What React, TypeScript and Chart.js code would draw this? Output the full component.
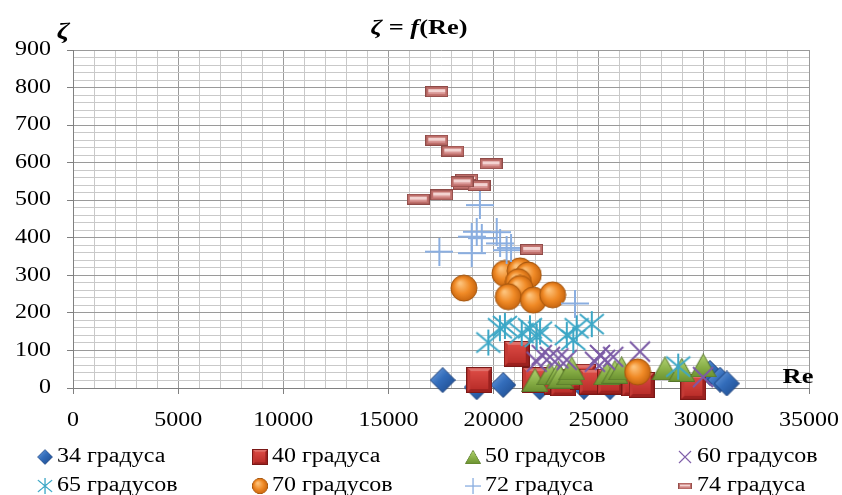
import React, { useEffect, useRef } from 'react';
import { Chart, registerables } from 'chart.js';

Chart.register(...registerables);

// ---------- data ----------
const seriesLabels = ['34 градуса', '40 градуса', '50 градусов', '60 градусов', '65 градусов', '70 градусов', '72 градуса', '74 градуса'];

const re34 = [17580, 19200, 20460, 22200, 24300, 25540, 30290, 30770, 31090];
const z34 = [21, 2, 8, 2, 3, 2, 40, 22, 12];

const re40 = [19320, 21100, 21970, 23000, 23320, 24270, 24670, 25540, 26700, 27040, 29500];
const z40 = [21, 91, 21, 17, 12, 30, 17, 17, 12, 8, 3];

const re50 = [21970, 22680, 23080, 23160, 23630, 23720, 25380, 25770, 26090, 28150, 28950, 29970];
const z50 = [21, 39, 39, 30, 39, 52, 39, 43, 52, 52, 48, 60];

const re60 = [22050, 22290, 22680, 23080, 23480, 24820, 25060, 25300, 25690, 26960, 29960];
const z60 = [70, 88, 83, 79, 75, 70, 88, 75, 83, 97, 29];

const re65 = [19750, 20300, 20540, 21340, 21730, 22210, 22050, 23480, 23790, 23950, 24670, 28780];
const z65 = [121, 159, 165, 146, 159, 150, 136, 141, 128, 159, 170, 57];

const re70 = [18590, 20540, 21260, 21650, 21180, 21260, 20700, 21890, 22810, 26850];
const z70 = [266, 305, 312, 301, 283, 265, 243, 234, 248, 43];

const re72 = [19350, 17420, 18960, 18960, 19200, 19440, 20150, 20310, 20620, 20830, 23870];
const z72 = [487, 363, 359, 403, 416, 399, 415, 385, 367, 373, 225];

const re74 = [17300, 17300, 18060, 19880, 18720, 18610, 19310, 18500, 17530, 16420, 21810];
const z74 = [789, 660, 631, 597, 556, 543, 539, 549, 514, 503, 369];

const xTickLabels = ['0', '5000', '10000', '15000', '20000', '25000', '30000', '35000'];
const yTickLabels = ['0', '100', '200', '300', '400', '500', '600', '700', '800', '900'];

const titleParts = [
  { t: 'ζ', italic: true },
  { t: ' = ', italic: false },
  { t: 'f', italic: true },
  { t: '(Re)', italic: false },
];
const yAxisTitle = 'ζ';
const xAxisTitle = 'Re';

// ---------- styling ----------
const SERIF = '"Liberation Serif", "Times New Roman", serif';
const SX = 1.2; // horizontal text stretch
const MAJOR = '#9a9a9a';
const MINOR = '#c9c9c9';
const AXIS = '#808080';

function mk(w: number, h: number, draw: (g: CanvasRenderingContext2D) => void) {
  const c = document.createElement('canvas');
  c.width = w;
  c.height = h;
  const g = c.getContext('2d')!;
  draw(g);
  return c;
}

function makeMarkers() {
  const diamond = mk(26, 26, (g) => {
    g.beginPath();
    g.moveTo(13, 0.5); g.lineTo(25.5, 13); g.lineTo(13, 25.5); g.lineTo(0.5, 13); g.closePath();
    const gr = g.createLinearGradient(0, 0, 26, 26);
    gr.addColorStop(0, '#7AA8E4'); gr.addColorStop(0.45, '#336DBB'); gr.addColorStop(1, '#1B4686');
    g.fillStyle = gr; g.fill();
    g.strokeStyle = '#1A3F78'; g.lineWidth = 1; g.stroke();
  });
  const square = mk(26, 26, (g) => {
    g.fillStyle = '#9C211F'; g.fillRect(0, 0, 26, 26);
    g.fillStyle = '#E0716B';
    g.beginPath(); g.moveTo(0, 0); g.lineTo(26, 0); g.lineTo(22, 4); g.lineTo(4, 4); g.closePath(); g.fill();
    g.fillStyle = '#C43A35';
    g.beginPath(); g.moveTo(0, 0); g.lineTo(4, 4); g.lineTo(4, 22); g.lineTo(0, 26); g.closePath(); g.fill();
    const gr = g.createLinearGradient(0, 4, 0, 22);
    gr.addColorStop(0, '#DA4943'); gr.addColorStop(1, '#BA2E2A');
    g.fillStyle = gr; g.fillRect(4, 4, 18, 18);
    g.strokeStyle = '#7A1816'; g.lineWidth = 1; g.strokeRect(0.5, 0.5, 25, 25);
  });
  const triangle = mk(27, 24, (g) => {
    g.beginPath();
    g.moveTo(13.5, 0.5); g.lineTo(26.5, 23.5); g.lineTo(0.5, 23.5); g.closePath();
    const gr = g.createLinearGradient(0, 0, 0, 24);
    gr.addColorStop(0, '#B3D474'); gr.addColorStop(0.6, '#86AD45'); gr.addColorStop(1, '#6A9030');
    g.fillStyle = gr; g.fill();
    g.strokeStyle = '#56762A'; g.lineWidth = 1; g.stroke();
  });
  const cross = mk(24, 24, (g) => {
    g.strokeStyle = '#7B5AA6'; g.lineWidth = 2;
    g.beginPath();
    g.moveTo(2, 2); g.lineTo(22, 22);
    g.moveTo(22, 2); g.lineTo(2, 22);
    g.stroke();
  });
  const star = mk(28, 28, (g) => {
    g.strokeStyle = '#3CA7C6'; g.lineWidth = 2;
    g.beginPath();
    g.moveTo(14, 1); g.lineTo(14, 27);
    g.moveTo(2, 4); g.lineTo(26, 24);
    g.moveTo(26, 4); g.lineTo(2, 24);
    g.stroke();
  });
  const circle = mk(28, 28, (g) => {
    g.beginPath(); g.arc(14, 14, 13, 0, Math.PI * 2);
    const gr = g.createRadialGradient(10, 9, 1, 14, 14, 13.5);
    gr.addColorStop(0, '#FDC27A'); gr.addColorStop(0.55, '#F08A26'); gr.addColorStop(1, '#C6640E');
    g.fillStyle = gr; g.fill();
    g.strokeStyle = '#A4550D'; g.lineWidth = 1; g.stroke();
  });
  const plus = mk(28, 28, (g) => {
    g.strokeStyle = '#8AAEE0'; g.lineWidth = 2;
    g.beginPath();
    g.moveTo(14, 0); g.lineTo(14, 28);
    g.moveTo(0, 14); g.lineTo(28, 14);
    g.stroke();
  });
  const dash = mk(23, 11, (g) => {
    g.fillStyle = '#BF6F6B'; g.fillRect(0, 0, 23, 11);
    g.fillStyle = '#F3D3D1'; g.fillRect(3, 3, 17, 3);
    g.fillStyle = '#D99694'; g.fillRect(3, 6, 17, 2);
    g.strokeStyle = '#8E4A47'; g.lineWidth = 1; g.strokeRect(0.5, 0.5, 22, 10);
  });
  return [diamond, square, triangle, cross, star, circle, plus, dash];
}

function drawText(ctx: CanvasRenderingContext2D, text: string, x: number, y: number, align: string, font: string, sx = SX) {
  ctx.save();
  ctx.font = font;
  const w = ctx.measureText(text).width * sx;
  const left = align === 'center' ? x - w / 2 : align === 'right' ? x - w : x;
  ctx.translate(left, y);
  ctx.scale(sx, 1);
  ctx.textAlign = 'left';
  ctx.textBaseline = 'middle';
  ctx.fillText(text, 0, 0);
  ctx.restore();
}

const legendCols = [45, 260, 473, 685];
const legendRows = [457, 486];

export default function App() {
  const ref = useRef<HTMLCanvasElement | null>(null);

  useEffect(() => {
    if (!ref.current) return;
    const markers = makeMarkers();
    const reAll = [re34, re40, re50, re60, re65, re70, re72, re74];
    const zAll = [z34, z40, z50, z60, z65, z70, z72, z74];

    const datasets = seriesLabels.map((label, i) => ({
      label,
      data: reAll[i].map((x, k) => ({ x, y: zAll[i][k] })),
      pointStyle: markers[i] as any,
      pointRadius: 10,
      pointHoverRadius: 10,
      showLine: false,
      clip: false as any,
      order: seriesLabels.length - 1 - i,
    }));

    const textPlugin = {
      id: 'texts',
      afterDraw(chart: any) {
        const ctx: CanvasRenderingContext2D = chart.ctx;
        const xs = chart.scales.x;
        const ys = chart.scales.y;
        ctx.save();
        ctx.fillStyle = '#000';
        xTickLabels.forEach((l) => drawText(ctx, l, xs.getPixelForValue(Number(l)), 421, 'center', `20px ${SERIF}`));
        yTickLabels.forEach((l) => drawText(ctx, l, 51, ys.getPixelForValue(Number(l)), 'right', `20px ${SERIF}`));

        // title
        const fs = 22;
        let total = 0;
        const widths = titleParts.map((p) => {
          ctx.font = `${p.italic ? 'italic ' : ''}bold ${fs}px ${SERIF}`;
          const w = ctx.measureText(p.t).width * SX;
          total += w;
          return w;
        });
        let cx = 419 - total / 2;
        titleParts.forEach((p, i) => {
          drawText(ctx, p.t, cx, 28, 'left', `${p.italic ? 'italic ' : ''}bold ${fs}px ${SERIF}`);
          cx += widths[i];
        });

        drawText(ctx, yAxisTitle, 63, 32, 'center', `italic bold 24px ${SERIF}`);
        drawText(ctx, xAxisTitle, 798, 377, 'center', `bold 22px ${SERIF}`);

        // legend
        seriesLabels.forEach((label, i) => {
          const mx = legendCols[i % 4];
          const my = legendRows[Math.floor(i / 4)];
          const img = markers[i];
          const s = 0.6;
          ctx.drawImage(img, mx - (img.width * s) / 2, my - (img.height * s) / 2, img.width * s, img.height * s);
          drawText(ctx, label, mx + 12, my, 'left', `20px ${SERIF}`);
        });
        ctx.restore();
      },
    };

    const chart = new Chart(ref.current, {
      type: 'scatter',
      data: { datasets },
      options: {
        animation: false,
        responsive: false,
        events: [],
        layout: { padding: { left: 0, right: 33, top: 50, bottom: 0 } },
        plugins: {
          legend: { display: false },
          title: { display: false },
          tooltip: { enabled: false },
        },
        scales: {
          x: {
            type: 'linear',
            min: 0,
            max: 35000,
            ticks: { stepSize: 1000, display: false, autoSkip: false },
            grid: {
              color: (c: any) => (c.tick && c.tick.value % 5000 === 0 ? MAJOR : MINOR),
              lineWidth: 1,
              drawTicks: true,
              tickLength: 6,
              tickColor: (c: any) => (c.tick && c.tick.value % 5000 === 0 ? AXIS : 'rgba(0,0,0,0)'),
            },
            border: { display: true, color: AXIS, width: 1 },
            afterFit: (s: any) => { s.height = 107; },
          },
          y: {
            type: 'linear',
            min: 0,
            max: 900,
            ticks: { stepSize: 20, display: false, autoSkip: false },
            grid: {
              color: (c: any) => (c.tick && c.tick.value % 100 === 0 ? MAJOR : MINOR),
              lineWidth: 1,
              drawTicks: true,
              tickLength: 6,
              tickColor: (c: any) => (c.tick && c.tick.value % 100 === 0 ? AXIS : 'rgba(0,0,0,0)'),
            },
            border: { display: true, color: AXIS, width: 1 },
            afterFit: (s: any) => { s.width = 73; },
          },
        },
      } as any,
      plugins: [textPlugin],
    });
    return () => chart.destroy();
  }, []);

  return (
    <div style={{ position: 'absolute', left: 0, top: 0, width: 842, height: 495, background: '#fff' }}>
      <canvas ref={ref} width={842} height={495} style={{ width: 842, height: 495, display: 'block' }} />
    </div>
  );
}
